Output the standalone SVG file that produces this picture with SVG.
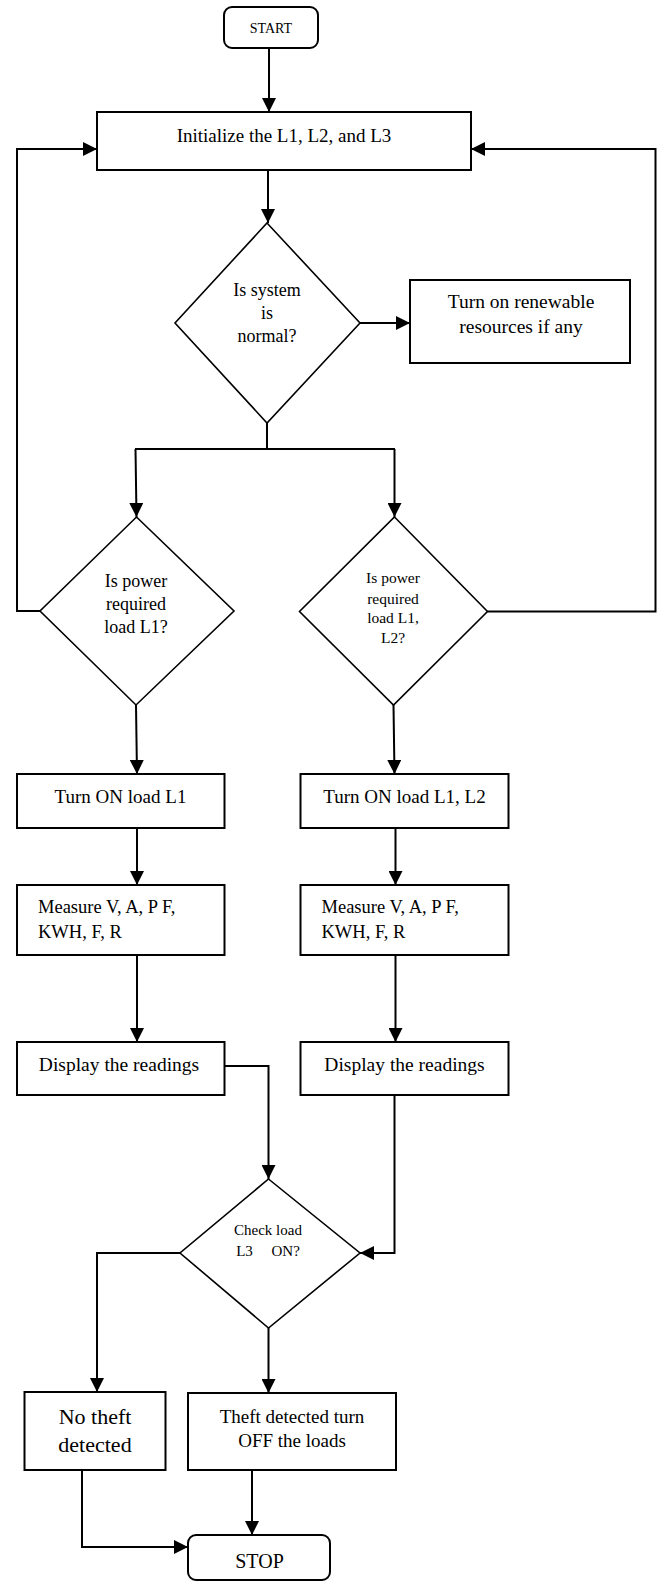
<svg xmlns="http://www.w3.org/2000/svg" width="659" height="1582" viewBox="0 0 659 1582">
<style>
.box{fill:#fff;stroke:#000;stroke-width:2}
.dia{fill:#fff;stroke:#000;stroke-width:1.6}
.con{fill:none;stroke:#000;stroke-width:2}
text{font-family:"Liberation Serif","Times New Roman",serif;fill:#000;text-anchor:middle}
.s{text-anchor:start}
</style>
<defs>
<marker id="ah" viewBox="0 0 14 14" refX="14" refY="7" markerWidth="14" markerHeight="14" markerUnits="userSpaceOnUse" orient="auto">
<path d="M0,0 L14,7 L0,14 z" fill="#000"/>
</marker>
</defs>
<rect width="659" height="1582" fill="#fff"/>
<g id="connectors">
<path class="con" d="M269,48 V112" marker-end="url(#ah)"/>
<path class="con" d="M268,170 V223" marker-end="url(#ah)"/>
<path class="con" d="M360,323 H410" marker-end="url(#ah)"/>
<path class="con" d="M267,423 V449"/>
<path class="con" d="M135,449 H395"/>
<path class="con" d="M135.5,449 L136.5,517" marker-end="url(#ah)"/>
<path class="con" d="M394.5,449 V517" marker-end="url(#ah)"/>
<path class="con" d="M40,611 H17 V149 H97" marker-end="url(#ah)"/>
<path class="con" d="M487.5,611.5 H655.5 V149 H471" marker-end="url(#ah)"/>
<path class="con" d="M136,705 L137,774" marker-end="url(#ah)"/>
<path class="con" d="M393.5,705 L394.5,774" marker-end="url(#ah)"/>
<path class="con" d="M137,828 V885" marker-end="url(#ah)"/>
<path class="con" d="M395.5,828 V885" marker-end="url(#ah)"/>
<path class="con" d="M137,955 V1042" marker-end="url(#ah)"/>
<path class="con" d="M395.5,955 V1042" marker-end="url(#ah)"/>
<path class="con" d="M224.5,1066 H268.5 V1179" marker-end="url(#ah)"/>
<path class="con" d="M394.5,1095 V1253 H360" marker-end="url(#ah)"/>
<path class="con" d="M180,1253 H97 V1392" marker-end="url(#ah)"/>
<path class="con" d="M268.5,1328 V1393" marker-end="url(#ah)"/>
<path class="con" d="M252,1470 V1535" marker-end="url(#ah)"/>
<path class="con" d="M82,1470 V1547 H188" marker-end="url(#ah)"/>
</g>
<g id="start">
<rect class="box" x="224" y="7" width="94" height="41" rx="8"/>
<text x="271" y="33" font-size="14">START</text>
</g>
<g id="init">
<rect class="box" x="97" y="112" width="374" height="58"/>
<text x="284" y="142" font-size="19">Initialize the L1, L2, and L3</text>
</g>
<g id="d-normal">
<polygon class="dia" points="267,223 360,323 267,423 175,323"/>
<text x="267" y="296" font-size="18">Is system</text>
<text x="267" y="319" font-size="18">is</text>
<text x="267" y="342" font-size="18">normal?</text>
</g>
<g id="renewable">
<rect class="box" x="410" y="280" width="220" height="83"/>
<text x="521" y="308" font-size="19.5">Turn on renewable</text>
<text x="521" y="333" font-size="19.5">resources if any</text>
</g>
<g id="d-l1">
<polygon class="dia" points="136.5,517 234,611 136,705 40,611"/>
<text x="136" y="587" font-size="18">Is power</text>
<text x="136" y="610" font-size="18">required</text>
<text x="136" y="633" font-size="18">load L1?</text>
</g>
<g id="d-l12">
<polygon class="dia" points="394.5,517 487.5,611.5 393.5,705 299.5,611.5"/>
<text x="393" y="583" font-size="15.5">Is power</text>
<text x="393" y="604" font-size="15.5">required</text>
<text x="393" y="623" font-size="15.5">load L1,</text>
<text x="393" y="643" font-size="15.5">L2?</text>
</g>
<g id="on-l1">
<rect class="box" x="17" y="774" width="207.5" height="54"/>
<text x="120.5" y="803" font-size="19">Turn ON load L1</text>
</g>
<g id="on-l12">
<rect class="box" x="300.5" y="774" width="208" height="54"/>
<text x="404.5" y="803" font-size="19">Turn ON load L1, L2</text>
</g>
<g id="measure-l">
<rect class="box" x="17" y="885" width="207.5" height="70"/>
<text class="s" x="38" y="913" font-size="18.5">Measure V, A, P F,</text>
<text class="s" x="38" y="938" font-size="18.5">KWH, F, R</text>
</g>
<g id="measure-r">
<rect class="box" x="300.5" y="885" width="208" height="70"/>
<text class="s" x="321.5" y="913" font-size="18.5">Measure V, A, P F,</text>
<text class="s" x="321.5" y="938" font-size="18.5">KWH, F, R</text>
</g>
<g id="display-l">
<rect class="box" x="17" y="1042" width="207.5" height="53"/>
<text x="119" y="1071" font-size="19.5">Display the readings</text>
</g>
<g id="display-r">
<rect class="box" x="300.5" y="1042" width="208" height="53"/>
<text x="404.5" y="1071" font-size="19.5">Display the readings</text>
</g>
<g id="d-l3">
<polygon class="dia" points="268.5,1179 360,1253 268.5,1328 180,1253"/>
<text x="268" y="1235" font-size="15">Check load</text>
<text x="268" y="1256" font-size="15" style="white-space:pre">L3     ON?</text>
</g>
<g id="no-theft">
<rect class="box" x="24.5" y="1392" width="141" height="78"/>
<text x="95" y="1424" font-size="22">No theft</text>
<text x="95" y="1452" font-size="22">detected</text>
</g>
<g id="theft">
<rect class="box" x="188" y="1393" width="208" height="77"/>
<text x="292" y="1423" font-size="19">Theft detected turn</text>
<text x="292" y="1447" font-size="19">OFF the loads</text>
</g>
<g id="stop">
<rect class="box" x="188" y="1535" width="142" height="45" rx="8"/>
<text x="259.5" y="1568" font-size="20">STOP</text>
</g>
</svg>
